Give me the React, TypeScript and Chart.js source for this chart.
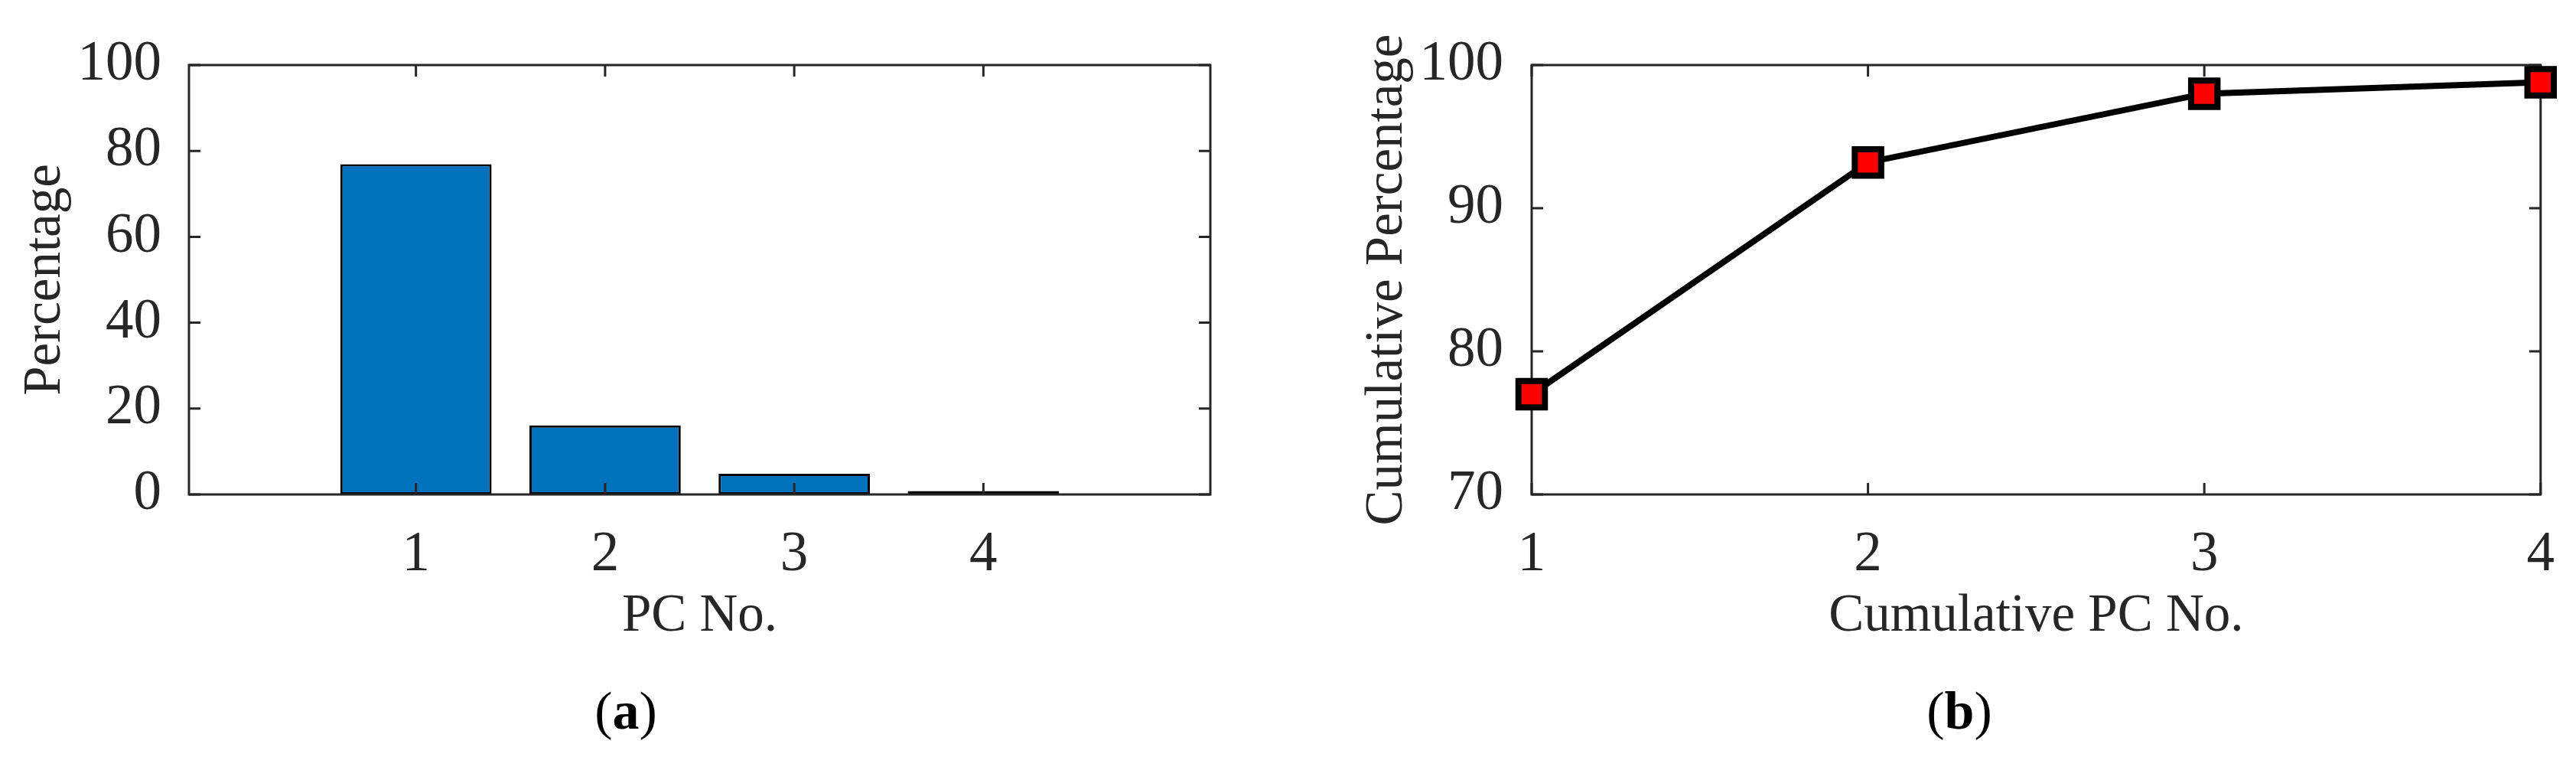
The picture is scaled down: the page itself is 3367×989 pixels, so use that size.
import React, { useEffect, useRef } from "react";
import { Chart, registerables } from "chart.js";

Chart.register(...registerables);

// ---- data ----
const pcNumbers = [1, 2, 3, 4];
const percentages = [76.9, 16.1, 4.8, 0.8];
const cumulativePercentages = [77.0, 93.2, 98.0, 98.8];
const barYTicks = [0, 20, 40, 60, 80, 100];
const lineYTicks = [70, 80, 90, 100];

const FONT_FAMILY = '"Liberation Serif", "Times New Roman", Times, serif';
const AXIS_COLOR = "#262626";
const TICK_LEN = 15;

function drawFrame(chart: any) {
  const { ctx, chartArea: a, scales } = chart;
  const xs = scales.x;
  const ys = scales.y;
  ctx.save();
  ctx.strokeStyle = AXIS_COLOR;
  ctx.lineWidth = 3;
  ctx.lineCap = "butt";
  ctx.beginPath();
  xs.ticks.forEach((t: any) => {
    const px = xs.getPixelForValue(t.value);
    ctx.moveTo(px, a.bottom);
    ctx.lineTo(px, a.bottom - TICK_LEN);
    ctx.moveTo(px, a.top);
    ctx.lineTo(px, a.top + TICK_LEN);
  });
  ys.ticks.forEach((t: any) => {
    const py = ys.getPixelForValue(t.value);
    ctx.moveTo(a.left, py);
    ctx.lineTo(a.left + TICK_LEN, py);
    ctx.moveTo(a.right, py);
    ctx.lineTo(a.right - TICK_LEN, py);
  });
  ctx.stroke();
  ctx.strokeRect(a.left, a.top, a.right - a.left, a.bottom - a.top);
  ctx.restore();
}

const frameAfter = { id: "frameAfter", afterDatasetsDraw: (c: any) => drawFrame(c) };
const frameBefore = { id: "frameBefore", beforeDatasetsDraw: (c: any) => drawFrame(c) };

const tickFont = { family: FONT_FAMILY, size: 73 };
const titleFont = { family: FONT_FAMILY, size: 69 };

function xScaleCommon(title: string) {
  return {
    type: "linear" as const,
    offset: false,
    grid: { display: false },
    border: { display: false },
    ticks: { font: tickFont, color: AXIS_COLOR, padding: 28, maxRotation: 0, autoSkip: false },
    title: { display: true, text: title, font: titleFont, color: AXIS_COLOR, padding: { top: 0, bottom: 142 } },
    afterFit: (s: any) => {
      s.height = 343;
    },
    afterBuildTicks: (s: any) => {
      s.ticks = pcNumbers.map((v) => ({ value: v }));
    },
  };
}

export default function App() {
  const leftRef = useRef<HTMLCanvasElement>(null);
  const rightRef = useRef<HTMLCanvasElement>(null);

  useEffect(() => {
    const barChart = new Chart(leftRef.current as HTMLCanvasElement, {
      type: "bar",
      data: {
        datasets: [
          {
            data: pcNumbers.map((x, i) => ({ x, y: percentages[i] })),
            backgroundColor: "#0072BD",
            borderColor: "#000000",
            borderWidth: 3,
            borderSkipped: false,
            categoryPercentage: 1,
            barPercentage: 0.8,
          } as any,
        ],
      },
      options: {
        animation: false,
        responsive: false,
        events: [],
        layout: { padding: { left: 0, top: 85, right: 101, bottom: 0 } },
        plugins: { legend: { display: false }, tooltip: { enabled: false } },
        scales: {
          x: { ...xScaleCommon("PC No."), min: -0.2, max: 5.2 } as any,
          y: {
            type: "linear",
            min: 0,
            max: 100,
            grid: { display: false },
            border: { display: false },
            ticks: { font: tickFont, color: AXIS_COLOR, padding: 28, stepSize: 20 },
            title: { display: true, text: "Percentage", font: titleFont, color: AXIS_COLOR, padding: { top: 18, bottom: 0 } },
            afterFit: (s: any) => {
              s.width = 247;
            },
            afterBuildTicks: (s: any) => {
              s.ticks = barYTicks.map((v) => ({ value: v }));
            },
          } as any,
        },
      },
      plugins: [frameAfter],
    });

    const lineChart = new Chart(rightRef.current as HTMLCanvasElement, {
      type: "line",
      data: {
        datasets: [
          {
            data: pcNumbers.map((x, i) => ({ x, y: cumulativePercentages[i] })),
            borderColor: "#000000",
            borderWidth: 8,
            tension: 0,
            pointStyle: "rect",
            pointRadius: 24.4,
            pointBorderWidth: 8,
            pointBackgroundColor: "#FF0000",
            pointBorderColor: "#000000",
            clip: false,
          } as any,
        ],
      },
      options: {
        animation: false,
        responsive: false,
        events: [],
        layout: { padding: { left: 0, top: 85, right: 34, bottom: 0 } },
        plugins: { legend: { display: false }, tooltip: { enabled: false } },
        scales: {
          x: { ...xScaleCommon("Cumulative PC No."), min: 1, max: 4 } as any,
          y: {
            type: "linear",
            min: 70,
            max: 100,
            grid: { display: false },
            border: { display: false },
            ticks: { font: tickFont, color: AXIS_COLOR, padding: 29, stepSize: 10 },
            title: {
              display: true,
              text: "Cumulative Percentage",
              font: titleFont,
              color: AXIS_COLOR,
              padding: { top: 89, bottom: 0 },
            },
            afterFit: (s: any) => {
              s.width = 319;
            },
            afterBuildTicks: (s: any) => {
              s.ticks = lineYTicks.map((v) => ({ value: v }));
            },
          } as any,
        },
      },
      plugins: [frameBefore],
    });

    return () => {
      barChart.destroy();
      lineChart.destroy();
    };
  }, []);

  const captionStyle: React.CSSProperties = {
    position: "absolute",
    top: 894,
    transform: "translateX(-50%)",
    fontFamily: FONT_FAMILY,
    fontSize: 70,
    lineHeight: "70px",
    color: "#000",
    whiteSpace: "nowrap",
  };

  return (
    <div style={{ position: "absolute", left: 0, top: 0, width: 3367, height: 989, background: "#ffffff", overflow: "hidden" }}>
      <canvas ref={leftRef} width={1683} height={989} style={{ position: "absolute", left: 0, top: 0, width: 1683, height: 989 }} />
      <canvas ref={rightRef} width={1684} height={989} style={{ position: "absolute", left: 1683, top: 0, width: 1684, height: 989 }} />
      <div style={{ ...captionStyle, left: 818 }}>
        (<b>a</b>)
      </div>
      <div style={{ ...captionStyle, left: 2561 }}>
        (<b>b</b>)
      </div>
    </div>
  );
}
